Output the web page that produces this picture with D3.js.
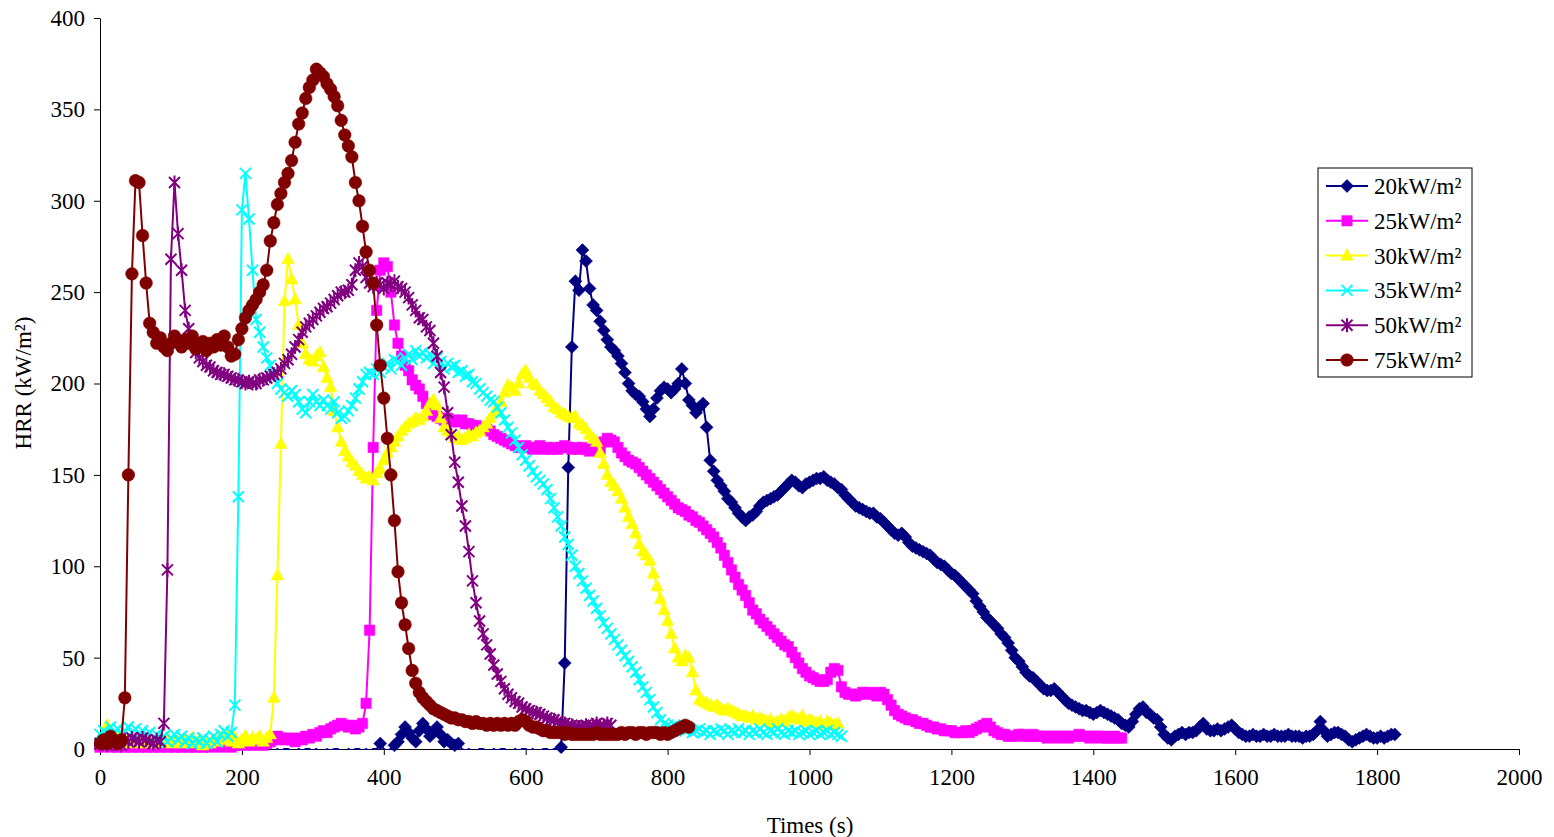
<!DOCTYPE html>
<meta charset="utf-8">
<style>
  body { margin: 0; background: #fff; }
  text { font-family: "Liberation Serif", "Times New Roman", serif; }
</style>
<body>
<svg width="1554" height="837"></svg>
<script src="https://cdn.jsdelivr.net/npm/d3@7"></script>
<script>
// readings every 5 s
const STEP = 5;

const hrr20 = [
  -1,0,-2,-1,0,0,-1,-2,0,-1,  0,-1,-2,0,0,-1,0,-2,-1,0,
  -1,0,0,-1,-2,0,-1,0,-2,-1,  0,0,-1,0,-2,-1,0,-1,0,0,
  -1,-2,0,-1,0,0,-1,0,-2,-1,  0,-1,0,0,-1,-2,0,-1,0,0,
  -1,0,-2,-1,0,-1,0,0,-1,-2,  0,-1,0,0,-1,0,-1,0,0,3,
  0,-1,0,2,4,8,12,9,6,4,  10,14,11,7,9,12,8,4,5,3,
  2,3,0,-1,0,-2,-1,0,0,-1,  -2,0,-1,0,0,-1,-2,0,-1,0,
  0,-1,0,-2,-1,0,0,-1,0,0,  1,47,154,220,256,251,273,267,252,243,
  240,234,229,224,220,218,215,211,206,200,  196,194,193,190,186,182,186,192,196,198,
  197,195,197,200,208,200,191,188,184,187,  189,176,158,152,147,144,141,137,135,132,
  129,127,125,127,128,130,133,135,136,137,  138,139,141,143,145,147,146,144,143,145,
  146,147,148,148,149,147,146,145,143,142,  139,137,135,133,132,131,130,129,129,127,
  126,124,122,120,118,117,118,116,113,111,  110,109,108,107,106,104,102,101,100,98,
  96,95,93,91,89,87,85,81,78,75,  72,70,68,66,63,61,58,54,50,48,
  45,42,40,39,37,35,33,32,32,33,  31,29,27,25,24,23,22,21,21,20,
  19,20,21,20,19,18,17,16,14,13,  12,15,19,22,23,20,19,17,16,12,
  8,6,5,7,8,9,8,9,9,10,  12,14,11,10,10,11,10,11,12,13,
  11,9,8,7,7,8,7,7,8,7,  7,8,7,7,7,8,7,7,7,6,
  7,7,8,10,15,10,7,8,9,9,  8,7,5,4,5,6,7,8,7,6,
  6,7,6,7,8,8
];

const hrr25 = [
  1,0,2,1,0,1,2,1,0,1,  2,1,0,1,2,1,0,1,2,1,
  0,1,2,1,0,1,2,1,0,1,  2,1,0,2,1,2,3,1,2,3,
  2,4,3,2,4,3,2,3,4,5,  7,6,5,6,5,4,6,5,7,6,
  8,7,9,10,9,11,12,13,14,13,  12,13,11,12,14,25,65,165,240,262,
  266,264,250,232,222,215,210,207,202,199,  197,193,189,186,183,182,181,180,181,179,
  180,179,180,178,178,177,177,176,175,175,  174,172,171,170,169,168,167,166,165,165,
  166,165,164,165,166,164,165,164,165,164,  165,166,165,164,165,164,165,164,163,164,
  165,164,168,170,169,168,165,162,160,158,  157,156,154,152,150,148,146,144,142,140,
  138,136,134,132,131,130,128,127,125,124,  122,120,118,116,113,110,106,102,98,94,
  90,87,84,80,76,74,71,69,67,65,  63,61,59,57,56,53,50,47,44,42,
  40,39,38,37,37,38,42,44,43,34,  31,30,30,29,30,31,30,31,30,29,
  31,30,27,24,21,19,18,17,16,16,  15,14,14,13,12,12,11,11,10,10,
  10,9,9,9,10,9,10,11,12,13,  14,12,10,9,8,8,7,7,7,8,
  8,7,7,8,7,7,7,6,7,7,  6,7,7,6,7,7,8,7,7,6,
  7,7,6,7,6,6,7,6,6
];

const hrr30 = [
  5,8,13,6,4,7,3,5,4,6,  3,5,4,3,5,4,3,5,4,6,
  3,5,4,3,5,4,6,3,5,2,  4,3,5,4,6,5,7,4,6,3,
  5,7,4,6,5,7,4,6,8,28,  95,167,245,268,257,246,232,222,216,213,
  212,215,217,209,203,198,185,176,168,163,  160,157,155,152,150,148,149,147,151,153,
  158,162,165,168,171,174,176,178,179,181,  180,182,185,189,191,188,181,176,174,172,
  170,171,169,170,172,171,173,174,176,178,  181,184,186,190,195,199,198,196,200,205,
  207,203,200,199,196,194,192,190,187,186,  184,183,182,181,182,178,177,175,172,170,
  168,162,156,150,146,144,141,137,132,127,  123,118,112,108,106,103,96,89,82,76,
  70,63,55,50,48,51,50,42,32,27,  26,25,24,23,24,22,21,22,21,20,
  19,18,18,17,18,16,17,16,15,16,  14,15,16,15,17,18,17,16,18,15,
  16,15,14,15,13,15,14,13,14
];

const hrr35 = [
  8,10,7,12,9,11,8,10,12,9,  11,8,10,7,9,6,8,5,7,4,
  6,8,5,7,4,6,3,5,4,6,  3,5,7,4,8,10,7,9,24,138,
  295,315,290,262,235,228,220,214,210,204,  200,197,195,193,196,194,190,186,184,190,
  194,190,188,191,188,186,190,184,181,182,  185,188,192,197,201,205,206,205,208,206,
  209,211,208,213,212,210,214,216,213,218,  215,217,214,216,211,214,212,208,211,209,
  210,206,207,204,205,201,200,197,195,193,  191,190,187,184,180,176,173,169,165,161,
  158,155,152,149,147,145,142,137,132,127,  122,116,112,106,100,96,92,88,84,81,
  77,73,69,66,63,60,57,54,51,48,  45,42,38,34,31,27,23,20,16,14,
  13,12,13,11,12,10,11,9,10,11,  9,10,8,10,9,11,10,8,10,9,
  11,9,10,8,10,9,11,9,8,10,  9,11,9,8,10,9,10,8,9,10,
  8,9,10,8,9,10,8,9,8,7
];

const hrr50 = [
  3,4,2,5,3,4,2,5,4,6,  5,4,6,5,4,3,5,4,14,98,
  268,310,282,262,240,230,222,217,214,212,  210,209,207,206,205,205,204,203,202,202,
  201,200,201,200,200,202,202,203,204,205,  206,208,211,213,216,220,224,228,231,233,
  235,237,239,241,242,244,246,248,250,250,  251,254,262,266,264,258,255,253,255,254,
  252,255,254,256,253,252,250,247,243,240,  236,235,231,229,222,215,206,198,184,172,
  157,146,133,122,108,92,80,70,63,57,  52,46,41,37,33,30,28,26,25,23,
  22,21,20,20,19,18,17,16,16,15,  14,14,13,13,12,12,12,13,12,13,
  14,13,13,14,13
];

const hrr75 = [
  3,5,3,7,4,3,5,28,150,260,  311,310,281,255,233,228,222,225,220,218,
  222,226,223,220,224,222,226,219,221,223,  218,222,220,224,221,226,220,215,216,224,
  230,236,240,243,246,250,254,262,278,288,  298,304,310,315,322,332,342,348,356,362,
  366,372,370,368,364,361,357,352,344,336,  330,324,310,300,286,272,262,255,232,210,
  192,170,150,125,97,80,68,55,43,36,  31,28,26,24,22,21,20,19,18,17,
  17,16,16,15,15,14,15,14,14,13,  14,13,14,13,14,13,14,13,15,16,
  15,13,12,12,11,10,10,9,9,9,  9,8,9,8,8,8,8,8,8,8,
  9,8,8,8,8,8,8,9,8,9,  9,8,9,9,8,9,9,9,8,9,
  8,9,10,11,12,13,12
];

const seriesNames = ["20kW/m²", "25kW/m²", "30kW/m²", "35kW/m²", "50kW/m²", "75kW/m²"];
const seriesColors = ["#000080", "#FF00FF", "#FFFF00", "#00FFFF", "#800080", "#800000"];
const seriesMarkers = ["diamond", "square", "triangle", "cross", "star", "circle"];
const seriesValues = [hrr20, hrr25, hrr30, hrr35, hrr50, hrr75];

const xTicks = d3.range(0, 2001, 200);
const yTicks = d3.range(0, 401, 50);

var svg = d3.select("svg");
var x = d3.scaleLinear().domain([0, 2000]).range([100, 1519]);
var y = d3.scaleLinear().domain([0, 400]).range([749, 18]);

function markerPath(type) {
    switch (type) {
        case "diamond": return "M0,-6.5L6.5,0L0,6.5L-6.5,0Z";
        case "square": return "M-5.2,-5.2H5.2V5.2H-5.2Z";
        case "triangle": return "M0,-7L6.3,4.6L-6.3,4.6Z";
        case "cross": return "M-5.5,-5.5L5.5,5.5M-5.5,5.5L5.5,-5.5";
        case "star": return "M-5.5,-5.5L5.5,5.5M-5.5,5.5L5.5,-5.5M0,-7V7";
        default: return d3.symbol().type(d3.symbolCircle).size(125)();
    }
}

function drawMarker(sel, type, color) {
    var filled = !(type == "cross" || type == "star");
    sel.append("path")
        .attr("d", markerPath(type))
        .attr("fill", filled ? color : "none")
        .attr("stroke", color)
        .attr("stroke-width", filled ? 0.5 : 2);
}

var defs = svg.append("defs");
defs.append("clipPath").attr("id", "plotLines")
    .append("rect").attr("x", 100).attr("y", 10).attr("width", 1419).attr("height", 740);
defs.append("clipPath").attr("id", "plotMarks")
    .append("rect").attr("x", 94).attr("y", 10).attr("width", 1430).attr("height", 745);

// axes
var xAxis = svg.append("g")
    .attr("transform", "translate(0,749)")
    .call(d3.axisBottom(x).tickValues(xTicks).tickFormat(d3.format("d"))
        .tickSize(6).tickSizeOuter(0).tickPadding(14));
var yAxis = svg.append("g")
    .attr("transform", "translate(100,0)")
    .call(d3.axisLeft(y).tickValues(yTicks).tickFormat(d3.format("d"))
        .tickSize(6).tickSizeOuter(0).tickPadding(9));

[xAxis, yAxis].forEach(function(a) {
    a.select(".domain").attr("stroke", "#000");
    a.selectAll(".tick line").attr("stroke", "#000");
    a.selectAll("text")
        .attr("fill", "#000")
        .style("font-family", "'Liberation Serif', serif")
        .style("font-size", "23px");
});

svg.append("text")
    .attr("x", 810).attr("y", 833)
    .attr("text-anchor", "middle")
    .style("font-size", "23px")
    .text("Times (s)");

svg.append("text")
    .attr("transform", "translate(31,383) rotate(-90)")
    .attr("text-anchor", "middle")
    .style("font-size", "23px")
    .text("HRR (kW/m²)");

// series: lines clipped to the plot area, markers only for points in range
var plot = svg.append("g");
var line = d3.line()
    .x(function(d, i) { return x(i * STEP); })
    .y(function(d) { return y(d); });

seriesValues.forEach(function(vals, s) {
    var g = plot.append("g");
    g.append("path")
        .attr("clip-path", "url(#plotLines)")
        .attr("d", line(vals))
        .attr("fill", "none")
        .attr("stroke", seriesColors[s])
        .attr("stroke-width", 2);
    var pts = vals.map(function(v, i) { return { t: i * STEP, v: v }; })
        .filter(function(p) { return p.v > 0; });
    g.append("g").attr("clip-path", "url(#plotMarks)")
        .selectAll("g.mk")
        .data(pts)
        .enter().append("g")
            .attr("class", "mk")
            .attr("transform", function(d) { return "translate(" + x(d.t) + "," + y(d.v) + ")"; })
            .each(function() { drawMarker(d3.select(this), seriesMarkers[s], seriesColors[s]); });
});

// legend
var legend = svg.append("g").attr("transform", "translate(1318,168)");
legend.append("rect")
    .attr("width", 154).attr("height", 209)
    .attr("fill", "#fff").attr("stroke", "#000").attr("stroke-width", 1);

seriesNames.forEach(function(name, s) {
    var row = legend.append("g").attr("transform", "translate(0," + (18 + s * 34.8) + ")");
    row.append("line")
        .attr("x1", 8).attr("x2", 50)
        .attr("stroke", seriesColors[s]).attr("stroke-width", 2);
    drawMarker(row.append("g").attr("transform", "translate(29,0)"), seriesMarkers[s], seriesColors[s]);
    row.append("text")
        .attr("x", 56).attr("y", 8)
        .style("font-size", "23px")
        .text(name);
});
</script>
</body>
